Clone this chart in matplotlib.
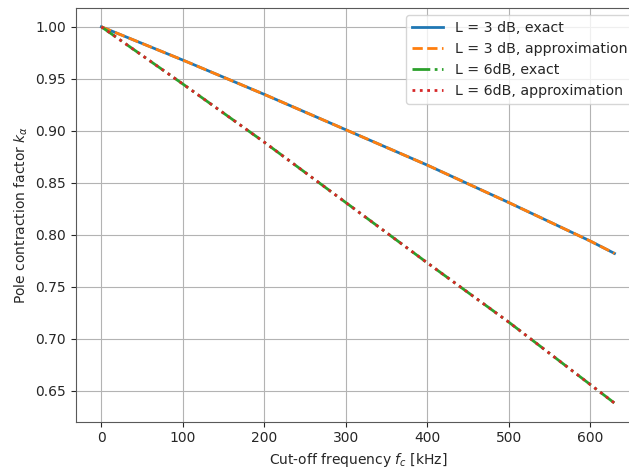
import matplotlib
matplotlib.use('Agg')
import matplotlib.pyplot as plt
import numpy as np

# cut-off frequency [kHz]
fc = [0, 100, 200, 300, 400, 500, 600, 630]

# pole contraction factor for 3 dB and 6 dB attenuation
k3_exact = [1.000, 0.968, 0.935, 0.901, 0.867, 0.831, 0.794, 0.782]
k3_approx = [1.000, 0.968, 0.935, 0.901, 0.867, 0.831, 0.794, 0.782]
k6_exact = [1.000, 0.945, 0.889, 0.831, 0.773, 0.716, 0.656, 0.638]
k6_approx = [1.000, 0.945, 0.889, 0.831, 0.773, 0.716, 0.656, 0.638]

plt.rcParams['text.color'] = '0.15'
plt.rcParams['axes.labelcolor'] = '0.15'
plt.rcParams['xtick.color'] = '0.15'
plt.rcParams['ytick.color'] = '0.15'
plt.rcParams['axes.edgecolor'] = '0.35'

fig = plt.figure(figsize=(6.29, 4.71), dpi=100)
ax = fig.add_axes([0.1204, 0.1047, 0.8973, 0.8783])

ax.plot(fc, k3_exact, color='C0', ls='solid', lw=2, label='L = 3 dB, exact')
ax.plot(fc, k3_approx, color='C1', ls='dashed', lw=2, label='L = 3 dB, approximation')
ax.plot(fc, k6_exact, color='C2', ls='dashdot', lw=2, label='L = 6dB, exact')
ax.plot(fc, k6_approx, color='C3', ls='dotted', lw=2, label='L = 6dB, approximation')

ax.set_xlim(-31.5, 661.5)
ax.set_ylim(0.6201, 1.0181)
ax.set_xticks([0, 100, 200, 300, 400, 500, 600])
ax.set_yticks(np.arange(0.65, 1.001, 0.05))
ax.grid(True, color='0.7')
ax.set_xlabel('Cut-off frequency $f_c$ [kHz]')
ax.set_ylabel(r'Pole contraction factor $k_\alpha$')
ax.legend(loc='upper right', handlelength=2.25, fontsize=10.2)

fig.savefig('out.png', dpi=100)
